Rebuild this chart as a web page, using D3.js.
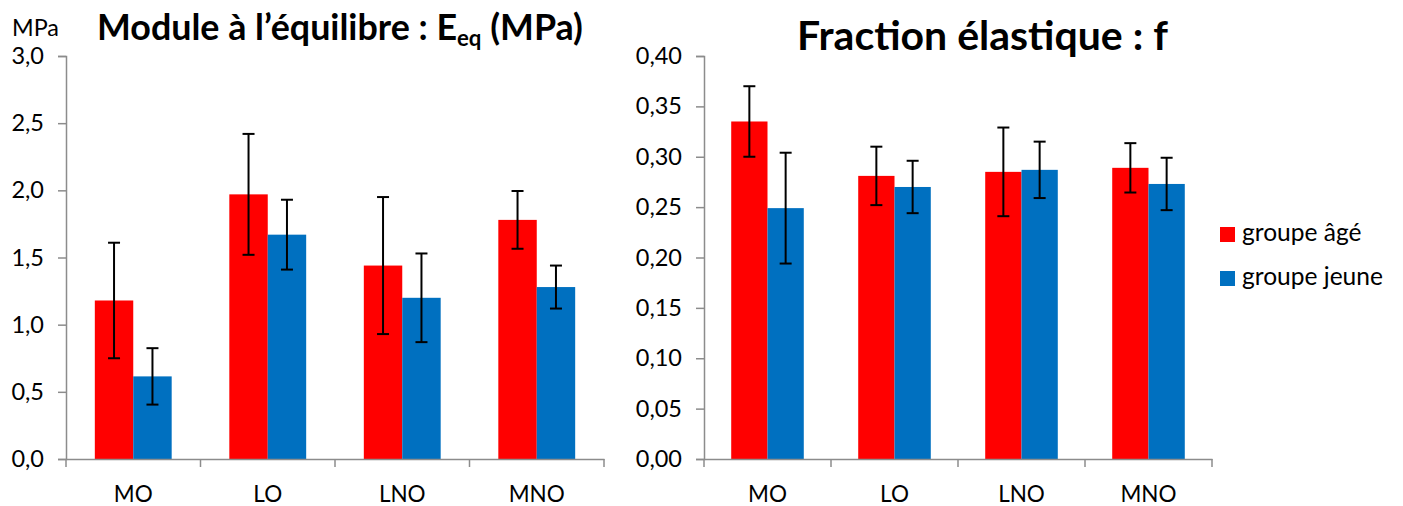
<!DOCTYPE html>
<html><head><meta charset="utf-8">
<script src="https://cdn.jsdelivr.net/npm/d3@7"></script>
<style>body{margin:0;background:#fff} text{font-family:Lato, "Open Sans", sans-serif;fill:#000}</style>
</head><body><svg id="c" width="1403" height="506"></svg>
<script>
const categories = ["MO", "LO", "LNO", "MNO"];
const seriesNames = ["groupe âgé", "groupe jeune"];
const eqAge = [1.18, 1.97, 1.44, 1.78];
const eqAgeErr = [0.43, 0.45, 0.51, 0.215];
const eqJeune = [0.615, 1.67, 1.20, 1.28];
const eqJeuneErr = [0.21, 0.26, 0.33, 0.16];
const fAge = [0.335, 0.281, 0.285, 0.289];
const fAgeErr = [0.035, 0.029, 0.044, 0.0245];
const fJeune = [0.249, 0.270, 0.287, 0.273];
const fJeuneErr = [0.055, 0.026, 0.028, 0.026];
const eqTicks = [0, 0.5, 1.0, 1.5, 2.0, 2.5, 3.0];
const fTicks = [0, 0.05, 0.10, 0.15, 0.20, 0.25, 0.30, 0.35, 0.40];
const colors = ["#FF0000", "#0070C0"];

const svg = d3.select("#c");
const loc = d3.formatLocale({decimal: ",", thousands: " ", grouping: [3], currency: ["", "€"]});
const AXIS = "#8c8c8c";

function panel(cfg) {
  const x = d3.scaleBand().domain(categories).range([cfg.x0, cfg.x1]).paddingInner(0).paddingOuter(0);
  const xs = d3.scaleBand().domain([0, 1]).range([0, x.bandwidth()]).paddingInner(0).paddingOuter(0.75);
  const y = d3.scaleLinear().domain([cfg.ticks[0], cfg.ticks[cfg.ticks.length - 1]]).range([cfg.yb, cfg.yt]);
  const g = svg.append("g");

  const series = [
    {vals: cfg.s1, err: cfg.e1, c: colors[0], i: 0},
    {vals: cfg.s2, err: cfg.e2, c: colors[1], i: 1}
  ];
  series.forEach(s => {
    g.selectAll(null).data(categories).enter().append("rect")
      .attr("x", (d) => x(d) + xs(s.i))
      .attr("width", xs.bandwidth())
      .attr("y", (d, k) => y(s.vals[k]))
      .attr("height", (d, k) => y(0) - y(s.vals[k]))
      .attr("fill", s.c);
  });
  series.forEach(s => {
    const eg = g.selectAll(null).data(categories).enter().append("g")
      .attr("transform", d => `translate(${x(d) + xs(s.i) + xs.bandwidth() / 2},0)`);
    eg.append("line").attr("y1", (d, k) => y(s.vals[k] + s.err[k])).attr("y2", (d, k) => y(s.vals[k] - s.err[k]))
      .attr("stroke", "#000").attr("stroke-width", 2);
    [1, -1].forEach(sg => {
      eg.append("line").attr("x1", -6).attr("x2", 6)
        .attr("y1", (d, k) => y(s.vals[k] + sg * s.err[k])).attr("y2", (d, k) => y(s.vals[k] + sg * s.err[k]))
        .attr("stroke", "#000").attr("stroke-width", 2);
    });
  });

  const ya = g.append("g").attr("transform", `translate(${cfg.x0},0)`)
    .call(d3.axisLeft(y).tickValues(cfg.ticks).tickFormat(loc.format(cfg.fmt)).tickSize(8).tickPadding(14));
  ya.select(".domain").attr("stroke", AXIS).attr("stroke-width", 1.5);
  ya.selectAll(".tick line").attr("stroke", AXIS).attr("stroke-width", 1.5);
  ya.selectAll("text").attr("font-size", 23.5).attr("font-family", "Lato").attr("fill", "#000");

  const xa = g.append("g").attr("transform", `translate(0,${cfg.yb})`)
    .call(d3.axisBottom(x).tickSize(0).tickPadding(27));
  xa.select(".domain").attr("stroke", AXIS).attr("stroke-width", 1.5);
  xa.selectAll("text").attr("font-size", 22.5).attr("font-family", "Lato").attr("fill", "#000");
  const bounds = d3.range(categories.length + 1).map(i => cfg.x0 + i * x.step());
  xa.selectAll(null).data(bounds).enter().append("line")
    .attr("x1", d => d).attr("x2", d => d).attr("y1", 0).attr("y2", 8)
    .attr("stroke", AXIS).attr("stroke-width", 1.5);
}

panel({x0: 66, x1: 604, yb: 459, yt: 56, ticks: eqTicks, fmt: ".1f",
  s1: eqAge, e1: eqAgeErr, s2: eqJeune, e2: eqJeuneErr});
panel({x0: 704, x1: 1212, yb: 459, yt: 56, ticks: fTicks, fmt: ".2f",
  s1: fAge, e1: fAgeErr, s2: fJeune, e2: fJeuneErr});

function fit(t, w) {
  const fs = +t.attr("font-size");
  const cw = t.node().getComputedTextLength();
  t.attr("font-size", fs * w / cw);
}
const t1 = svg.append("text").attr("x", 97).attr("y", 40).attr("font-weight", "bold").attr("font-size", 30);
t1.append("tspan").text("Module à l’équilibre : E");
t1.append("tspan").attr("font-size", "0.62em").attr("dy", 6).text("eq");
t1.append("tspan").attr("dy", -6).text(" (MPa)");
fit(t1, 486);
const t2 = svg.append("text").attr("x", 797).attr("y", 50).attr("font-weight", "bold").attr("font-size", 32)
  .text("Fraction élastique : f");
fit(t2, 371);

const mpa = svg.append("text").attr("x", 12).attr("y", 36).attr("font-size", 22).text("MPa");
fit(mpa, 47);

// legend
const lg = svg.append("g");
const legTexts = [];
seriesNames.forEach((n, i) => {
  lg.append("rect").attr("x", 1220).attr("y", 227 + i * 44).attr("width", 15).attr("height", 15).attr("fill", colors[i]);
  legTexts.push(lg.append("text").attr("x", 1242).attr("y", 241 + i * 44).attr("font-size", 22).text(n));
});
const lw = legTexts[1].node().getComputedTextLength();
legTexts.forEach(t => t.attr("font-size", 22 * 141 / lw));
</script></body></html>
